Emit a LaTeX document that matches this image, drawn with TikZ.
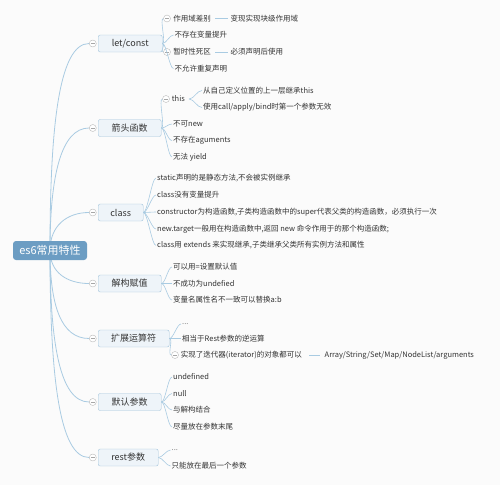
\documentclass[tikz,border=0pt]{standalone}
\usepackage{fontspec}
\setmainfont{Noto Sans CJK SC}
\usepackage{xcolor}
\usepackage{tikz}
\usetikzlibrary{positioning}
\definecolor{rootblue}{HTML}{6C9DC3}
\definecolor{boxfill}{HTML}{EEF4F9}
\definecolor{boxline}{HTML}{A3C4DB}
\definecolor{linkblue}{HTML}{A9CBE2}
\definecolor{textgray}{HTML}{333333}
\definecolor{bggray}{HTML}{FBFBFB}

\begin{document}
\begin{tikzpicture}[x=1pt, y=-1pt,
  root/.style={fill=rootblue, rounded corners=3pt, minimum width=74pt, minimum height=19pt, inner sep=0pt, text=white, font=\fontsize{11}{13}\selectfont},
  topic/.style={draw=boxline, fill=boxfill, rounded corners=2pt, anchor=west, minimum height=17pt, inner sep=0pt, text=textgray, font=\fontsize{9}{11}\selectfont},
  leaf/.style={anchor=west, inner sep=1pt, text=textgray, font=\fontsize{7.5}{9}\selectfont},
  dots/.style={leaf, text=gray},
  fold/.style={circle, draw=gray!55, fill=white, minimum size=7pt, inner sep=0pt,
    path picture={\draw[gray!70] ([xshift=-2pt]path picture bounding box.center) -- ([xshift=2pt]path picture bounding box.center);}},
  branch/.style={draw=linkblue, line width=0.8pt},
  twig/.style={draw=linkblue, line width=0.6pt}
]
  \fill[bggray] (0,0) rectangle (500,485);
  \useasboundingbox (0,0) rectangle (500,485);

  \coordinate (hub) at (50,250.5);

  % main topics
  \node[topic, minimum width=64pt] (letconst) at (98,43.5) {let/const};
  \node[topic, minimum width=63pt] (arrow) at (98,128) {箭头函数};
  \node[topic, minimum width=45pt] (class) at (98,212.5) {class};
  \node[topic, minimum width=63pt] (destr) at (98,283.5) {解构赋值};
  \node[topic, minimum width=71pt] (spread) at (98,338.5) {扩展运算符};
  \node[topic, minimum width=63pt] (default) at (98,402) {默认参数};
  \node[topic, minimum width=60pt] (rest) at (98,457.5) {rest参数};

  \foreach \t in {letconst,arrow,class,destr,spread,default,rest}
    \node[fold, left=1.5pt of \t] (f-\t) {};

  \foreach \t/\c/\d in {letconst/-125/30, arrow/-75/28, class/-25/22, destr/22/22,
                        spread/55/28, default/90/30, rest/125/30}
    \draw[branch] (hub) .. controls +(0,\c) and +(-\d,0) .. (f-\t.west);

  \node[root] (es6) at (hub) {es6常用特性};

  % let/const
  \node[fold] (f-lc1) at (167,18.5) {};
  \node[leaf, right=1.5pt of f-lc1] (lc1) {作用域差别};
  \node[leaf] (lc1a) at (229.5,18.5) {变现实现块级作用域};
  \node[leaf] (lc2) at (173.5,35) {不存在变量提升};
  \node[fold] (f-lc3) at (167,52) {};
  \node[leaf, right=1.5pt of f-lc3] (lc3) {暂时性死区};
  \node[leaf] (lc3a) at (229.5,52) {必须声明后使用};
  \node[leaf] (lc4) at (173.5,68.5) {不允许重复声明};
  \foreach \t in {f-lc1,lc2,f-lc3,lc4}
    \draw[twig] (letconst.east) .. controls +(4,0) and +(-4,0) .. (\t.west);
  \draw[twig] ([xshift=3pt]lc1.east) -- ([xshift=-2pt]lc1a.west);
  \draw[twig] ([xshift=3pt]lc3.east) -- ([xshift=-2pt]lc3a.west);

  % arrow functions
  \node[fold] (f-ar1) at (166,99) {};
  \node[leaf, right=1pt of f-ar1] (ar1) {this};
  \node[leaf] (ar1a) at (202,90.5) {从自己定义位置的上一层继承this};
  \node[leaf] (ar1b) at (202,107.5) {使用call/apply/bind时第一个参数无效};
  \node[leaf] (ar2) at (172,124) {不可new};
  \node[leaf] (ar3) at (172,140.5) {不存在aguments};
  \node[leaf] (ar4) at (172,157) {无法 yield};
  \foreach \t in {f-ar1,ar2,ar3,ar4}
    \draw[twig] (arrow.east) .. controls +(4,0) and +(-4,0) .. (\t.west);
  \foreach \t in {ar1a,ar1b}
    \draw[twig] ([xshift=3pt]ar1.east) .. controls +(5,0) and +(-5,0) .. (\t.west);

  % class
  \node[leaf] (cl1) at (156,178) {static声明的是静态方法,不会被实例继承};
  \node[leaf] (cl2) at (156,195) {class没有变量提升};
  \node[leaf] (cl3) at (156,212) {constructor为构造函数,子类构造函数中的super代表父类的构造函数，必须执行一次};
  \node[leaf] (cl4) at (156,229) {new.target一般用在构造函数中,返回 new 命令作用于的那个构造函数;};
  \node[leaf] (cl5) at (156,245.5) {class用 extends 来实现继承,子类继承父类所有实例方法和属性};
  \foreach \t in {cl1,cl2,cl3,cl4,cl5}
    \draw[twig] (class.east) .. controls +(4,0) and +(-4,0) .. (\t.west);

  % destructuring
  \node[leaf] (ds1) at (172,267) {可以用=设置默认值};
  \node[leaf] (ds2) at (172,283.5) {不成功为undefied};
  \node[leaf] (ds3) at (172,300) {变量名属性名不一致可以替换a:b};
  \foreach \t in {ds1,ds2,ds3}
    \draw[twig] (destr.east) .. controls +(4,0) and +(-4,0) .. (\t.west);

  % spread
  \node[dots] (sp1) at (181,324) {...};
  \node[leaf] (sp2) at (181,338.5) {相当于Rest参数的逆运算};
  \node[fold] (f-sp3) at (175,355) {};
  \node[leaf, right=1pt of f-sp3] (sp3) {实现了迭代器(iterator)的对象都可以};
  \node[leaf] (sp3a) at (323.5,355) {Array/String/Set/Map/NodeList/arguments};
  \foreach \t in {sp1,sp2,f-sp3}
    \draw[twig] (spread.east) .. controls +(4,0) and +(-4,0) .. (\t.west);
  \draw[twig] ([xshift=6pt]sp3.east) -- ([xshift=-4pt]sp3a.west);

  % default parameters
  \node[leaf] (df1) at (172,377) {undefined};
  \node[leaf] (df2) at (172,393.5) {null};
  \node[leaf] (df3) at (172,410) {与解构结合};
  \node[leaf] (df4) at (172,427) {尽量放在参数末尾};
  \foreach \t in {df1,df2,df3,df4}
    \draw[twig] (default.east) .. controls +(4,0) and +(-4,0) .. (\t.west);

  % rest parameters
  \node[dots] (rs1) at (170.5,450) {...};
  \node[leaf] (rs2) at (170.5,466) {只能放在最后一个参数};
  \foreach \t in {rs1,rs2}
    \draw[twig] (rest.east) .. controls +(4,0) and +(-4,0) .. (\t.west);
\end{tikzpicture}
\end{document}
